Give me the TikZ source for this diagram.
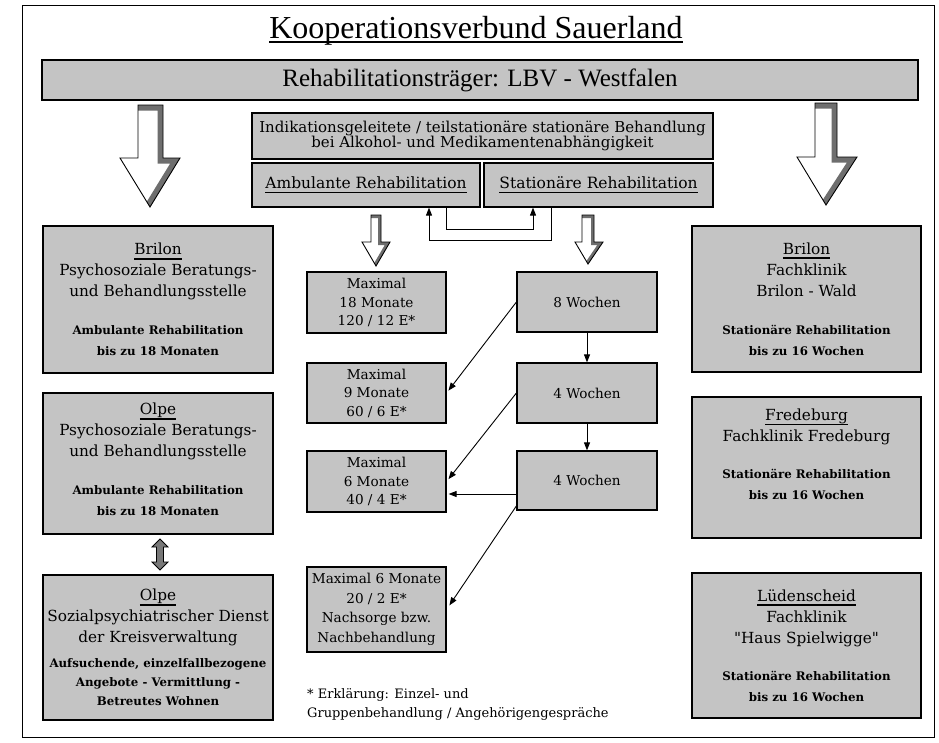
\documentclass[tikz,border=0pt]{standalone}
\usepackage{fontspec}
\setmainfont{DejaVu Serif}
\newfontfamily\tim{Liberation Serif}
\newfontfamily\nolig{DejaVu Serif}[Ligatures=TeXOff]
\usetikzlibrary{arrows.meta}
\definecolor{boxgray}{RGB}{196,196,196}
\definecolor{stripe}{RGB}{110,110,110}
\definecolor{dblgray}{RGB}{120,120,120}
\newcommand\myul[3]{\setbox0=\hbox{#3}\rlap{\rule[#1]{\wd0}{#2}}\box0}
\newcommand\fa{\fontsize{15.3}{21}\selectfont}
\newcommand\fb{\bfseries\fontsize{11.8}{19}\selectfont}
\newcommand\dq{{\nolig\symbol{34}}}
\newcommand\hollowarr[9]{%
  \begin{scope}
    \clip (#1,#3) -- (#2,#3) -- (#2,#6) -- (#5,#6) -- (#7,#8) -- (#4,#6) -- (#1,#6) -- cycle;
    \fill[white] (0,0) rectangle (939,742);
    \draw[stripe, line width=#9] (#1,#3) -- (#2,#3) -- (#2,#6) -- (#5,#6) -- (#7,#8);
  \end{scope}
  \draw[line width=0.9pt, line join=miter] (#1,#3) -- (#2,#3) -- (#2,#6) -- (#5,#6) -- (#7,#8) -- (#4,#6) -- (#1,#6) -- cycle;
}
\tikzset{
  gbox/.style={draw, fill=boxgray, line width=1.2pt, inner sep=0pt, align=center},
  tip/.style={-{Triangle[length=8pt,width=6pt]}, line width=0.9pt},
  btext/.style={inner sep=0pt}
}
\begin{document}
\begin{tikzpicture}[x=1pt,y=-1pt]
\useasboundingbox (0,0) rectangle (939,742);
% outer frame
\draw[line width=1pt] (22,5) rectangle (934,737);
% title
\node[btext, anchor=base, font=\tim\fontsize{32}{36}\selectfont] (title) at (476,38) {\myul{-5pt}{2pt}{Kooperationsverbund Sauerland}};
% band
\node[gbox, minimum width=876pt, minimum height=40pt, font=\tim\fontsize{25}{28}\selectfont] (band) at (480,80) {Rehabilitationsträger: LBV - Westfalen};
% big arrows
\hollowarr{138}{163}{105}{120}{180}{158}{150}{207}{11pt}
\hollowarr{815}{837}{103}{797}{857}{157}{826}{205}{11pt}
% center top
\node[gbox, minimum width=461pt, minimum height=46pt, font=\fontsize{15}{15.5}\selectfont] (indik) at (482.5,136) {Indikationsgeleitete / teilstationäre stationäre Behandlung\\bei Alkohol- und Medikamentenabhängigkeit};
\node[gbox, minimum width=228pt, minimum height=44pt, font=\fontsize{15.5}{17}\selectfont] (amb) at (366,185) {\myul{-5pt}{1.8pt}{Ambulante Rehabilitation}};
\node[gbox, minimum width=229pt, minimum height=44pt, font=\fontsize{15.5}{17}\selectfont] (stat) at (598.5,185) {\myul{-5pt}{1.8pt}{Stationäre Rehabilitation}};
\coordinate (a1) at (551,240);
\coordinate (a2) at (429,240);
\coordinate (b1) at (446,229);
\coordinate (b2) at (533,229);
\draw[tip] (stat.south -| a1) -- (a1) -- (a2) -- (amb.south -| a2);
\draw[tip] (amb.south -| b1) -- (b1) -- (b2) -- (stat.south -| b2);
% small hollow arrows
\hollowarr{371}{381}{215}{362}{390}{242}{376}{266}{6pt}
\hollowarr{582}{594}{215}{575}{603}{242}{588}{264}{6pt}
% left boxes
\node[gbox, minimum width=230pt, minimum height=147pt, font=\fa] (lb1) at (158,299.5)
  {\myul{-5pt}{1.8pt}{Brilon}\\Psychosoziale Beratungs-\\und Behandlungsstelle\\[17pt]{\fb Ambulante Rehabilitation}\\{\fb bis zu 18 Monaten}};
\node[gbox, minimum width=230pt, minimum height=141pt, font=\fa] (lo1) at (158,463.5)
  {\myul{-5pt}{1.8pt}{Olpe}\\Psychosoziale Beratungs-\\und Behandlungsstelle\\[17pt]{\fb Ambulante Rehabilitation}\\{\fb bis zu 18 Monaten}\rule[-8pt]{0pt}{1pt}};
\node[gbox, minimum width=230pt, minimum height=145pt, font=\fa] (lo2) at (158,647.5)
  {\myul{-5pt}{1.8pt}{Olpe}\\Sozialpsychiatrischer Dienst\\der Kreisverwaltung\\[4pt]{\fb Aufsuchende, einzelfallbezogene}\\[-2pt]{\fb Angebote - Vermittlung -}\\[-2pt]{\fb Betreutes Wohnen}};
% double arrow
\draw[fill=dblgray, line width=0.8pt, line join=miter] (160,539) -- (168,547) -- (163.5,547) -- (163.5,562) -- (168,562) -- (160,570) -- (152,562) -- (156.5,562) -- (156.5,547) -- (152,547) -- cycle;
% middle column
\node[gbox, minimum width=139pt, minimum height=61pt, font=\fontsize{13.6}{18.5}\selectfont] (m18) at (376.5,302.5) {Maximal\\18 Monate\\120 / 12 E*};
\node[gbox, minimum width=139pt, minimum height=60pt, font=\fontsize{13.6}{18.5}\selectfont] (m9) at (376.5,393) {Maximal\\9 Monate\\60 / 6 E*};
\node[gbox, minimum width=139pt, minimum height=61pt, font=\fontsize{13.6}{18.5}\selectfont] (m6) at (376.5,481.5) {Maximal\\6 Monate\\40 / 4 E*};
\node[gbox, minimum width=139pt, minimum height=85pt, font=\fontsize{13.6}{19.5}\selectfont] (mn) at (376.5,609.5) {Maximal 6 Monate\\20 / 2 E*\\Nachsorge bzw.\\Nachbehandlung};
\node[gbox, minimum width=140pt, minimum height=60pt, font=\fontsize{13.6}{18}\selectfont] (w8) at (587,302) {8 Wochen};
\node[gbox, minimum width=140pt, minimum height=60pt, font=\fontsize{13.6}{18}\selectfont] (w4a) at (587,393) {4 Wochen};
\node[gbox, minimum width=140pt, minimum height=59pt, font=\fontsize{13.6}{18}\selectfont] (w4b) at (587,480.5) {4 Wochen};
\draw[tip] (w8.south) -- (w4a.north);
\draw[tip] (w4a.south) -- (w4b.north);
\draw[tip, shorten >=3pt] (w8.west) -- (m9.east);
\draw[tip, shorten >=3pt] (w4a.west) -- (m6.east);
\coordinate (h1) at (517,494);
\coordinate (d1) at (517,505);
\draw[tip, shorten >=2pt] (h1) -- (m6.east |- h1);
\draw[tip, shorten >=5pt] (d1) -- (mn.east);
% footnote
\node[btext, anchor=base west, font=\fontsize{13}{16}\selectfont] (foot1) at (307,698) {* Erklärung: Einzel- und};
\node[btext, anchor=base west, font=\fontsize{13}{16}\selectfont] (foot2) at (307,717) {Gruppenbehandlung / Angehörigengespräche};
% right boxes
\node[gbox, minimum width=229pt, minimum height=146pt, font=\fa] (rb1) at (806.5,299)
  {\myul{-5pt}{1.8pt}{Brilon}\\Fachklinik\\Brilon - Wald\\[17pt]{\fb Stationäre Rehabilitation}\\{\fb bis zu 16 Wochen}};
\node[gbox, minimum width=229pt, minimum height=141pt, font=\fa] (rf) at (806.5,467.5)
  {\myul{-5pt}{1.8pt}{Fredeburg}\\Fachklinik Fredeburg\\[16pt]{\fb Stationäre Rehabilitation}\\{\fb bis zu 16 Wochen}\rule[-27pt]{0pt}{1pt}};
\node[gbox, minimum width=229pt, minimum height=145pt, font=\fa] (rl) at (806.5,645.5)
  {\myul{-5pt}{1.8pt}{Lüdenscheid}\\Fachklinik\\\dq Haus Spielwigge\dq\\[16pt]{\fb Stationäre Rehabilitation}\\{\fb bis zu 16 Wochen}};
\end{tikzpicture}
\end{document}
